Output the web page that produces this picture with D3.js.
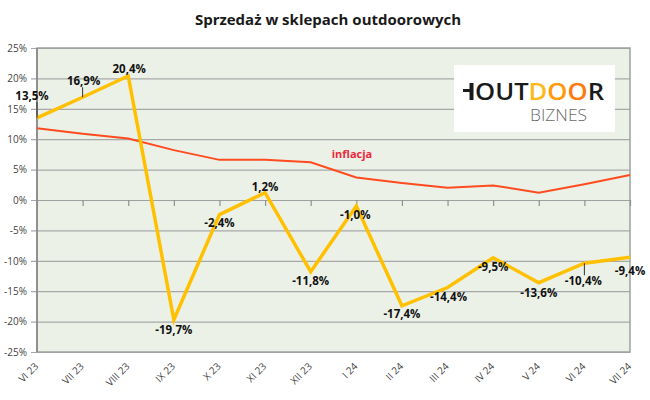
<!DOCTYPE html>
<html><head><meta charset="utf-8">
<script src="https://cdn.jsdelivr.net/npm/d3@7"></script>
<style>body{margin:0;background:#fff}svg{display:block}</style>
</head><body>
<svg id="c" width="650" height="400"></svg>
<script>
const categories = ["VI 23","VII 23","VIII 23","IX 23","X 23","XI 23","XII 23","I 24","II 24","III 24","IV 24","V 24","VI 24","VII 24"];
const sales = [13.5,16.9,20.4,-19.7,-2.4,1.2,-11.8,-1.0,-17.4,-14.4,-9.5,-13.6,-10.4,-9.4];
const inflation = [11.8,10.9,10.1,8.2,6.6,6.6,6.2,3.7,2.8,2.0,2.4,1.2,2.6,4.1];
const yTicks = [-25,-20,-15,-10,-5,0,5,10,15,20,25];
const title = "Sprzedaż w sklepach outdoorowych";
const inflationLabel = "inflacja";

// layout of data labels (offsets from point): [dx, dy, leader]
const labelLayout = [[-5,-18,1],[1,-12,1],[1,-3,0],[0,14,0],[0,12,0],[0,-2,0],[0,13,0],[-1,13,0],[0,12,0],[1,13,0],[0,13,0],[0,14,0],[-1,22,1],[0,18,0]];

const svg = d3.select("#c");
const L = 37, R = 630, T = 48, B = 352;
const x = d3.scalePoint().domain(categories).range([L, R]);
const y = d3.scaleLinear().domain([-25, 25]).range([B, T]);
const plFormat = d3.formatLocale({decimal: ",", thousands: " ", grouping: [3], currency: ["", " zł"], minus: "-"}).format(".1f");
const fmt = v => plFormat(v) + "%";

svg.append("text").attr("x", 328).attr("y", 25).attr("text-anchor", "middle")
  .attr("font-family", "Open Sans").attr("font-weight", "bold").attr("font-size", 15)
  .attr("fill", "#1a1a1a").text(title);

svg.append("rect").attr("x", L).attr("y", T).attr("width", R - L).attr("height", B - T)
  .attr("fill", "#ECF1E7");

// gridlines + y axis
const yAxis = d3.axisLeft(y).tickValues(yTicks).tickSize(-(R - L)).tickSizeOuter(0)
  .tickPadding(10).tickFormat(d => d + "%");
const gy = svg.append("g").attr("transform", `translate(${L},0)`).call(yAxis);
gy.select(".domain").remove();
gy.selectAll(".tick line").attr("stroke", "#A8A8A8").attr("stroke-width", 1.2).attr("x1", -6);
gy.selectAll(".tick text").attr("font-family", "Open Sans").attr("font-size", 10)
  .attr("fill", "#444").attr("x", -10);

// border
svg.append("rect").attr("x", L).attr("y", T).attr("width", R - L).attr("height", B - T)
  .attr("fill", "none").attr("stroke", "#A0A0A0").attr("stroke-width", 1.5);
svg.append("line").attr("x1", L).attr("x2", L).attr("y1", T).attr("y2", B)
  .attr("stroke", "#8C8C8C").attr("stroke-width", 1.8);

// x axis ticks at zero line
const xAxis = d3.axisBottom(x).tickSize(6).tickSizeOuter(0).tickFormat("");
const gx = svg.append("g").attr("transform", `translate(0,${y(0)})`).call(xAxis);
gx.select(".domain").attr("stroke", "#A0A0A0").attr("stroke-width", 1.2);
gx.selectAll(".tick line").attr("stroke", "#909090").attr("stroke-width", 1.2);

// x labels
svg.append("g").selectAll("text").data(categories).join("text")
  .attr("transform", d => `translate(${x(d) + 2},${367}) rotate(-45)`)
  .attr("text-anchor", "end").attr("font-family", "Open Sans").attr("font-size", 10)
  .attr("fill", "#444").text(d => d);

// logo
const lg = svg.append("g");
lg.append("rect").attr("x", 454).attr("y", 65).attr("width", 161).attr("height", 67).attr("fill", "#fff");
lg.append("rect").attr("x", 463).attr("y", 89).attr("width", 7).attr("height", 3).attr("fill", "#1a1a1a");
lg.append("rect").attr("x", 469.5).attr("y", 83).attr("width", 4).attr("height", 17).attr("fill", "#1a1a1a");
const lt = lg.append("text").attr("x", 475).attr("y", 100).attr("font-family", "Open Sans")
  .attr("font-size", 23.5).attr("font-weight", 600).attr("textLength", 129).attr("lengthAdjust", "spacingAndGlyphs");
lt.append("tspan").attr("fill", "#1a1a1a").text("OUT");
lt.append("tspan").attr("fill", "#FFB81C").text("D");
lt.append("tspan").attr("fill", "#FF9A0A").text("O");
lt.append("tspan").attr("fill", "#FF7A0A").text("O");
lt.append("tspan").attr("fill", "#1a1a1a").text("R");
lg.append("text").attr("x", 530).attr("y", 121).attr("font-family", "Open Sans").attr("font-size", 16)
  .attr("font-weight", 300).attr("fill", "#6a6a6a").attr("textLength", 57).attr("lengthAdjust", "spacingAndGlyphs")
  .text("BIZNES");

// inflation line
const line = d3.line().x((d, i) => x(categories[i])).y(d => y(d));
svg.append("path").datum(inflation).attr("d", line).attr("fill", "none")
  .attr("stroke", "#FF4B1F").attr("stroke-width", 2);
svg.append("text").attr("x", 352).attr("y", 158).attr("text-anchor", "middle")
  .attr("font-family", "Open Sans").attr("font-weight", "bold").attr("font-size", 11)
  .attr("fill", "#E8283C").text(inflationLabel);

// sales line
svg.append("path").datum(sales).attr("d", line).attr("fill", "none")
  .attr("stroke", "#FFC000").attr("stroke-width", 3.5).attr("stroke-linejoin", "miter");

// leader lines
svg.append("g").selectAll("line").data(sales.map((v, i) => ({v, i})).filter(d => labelLayout[d.i][2]))
  .join("line")
  .attr("x1", d => x(categories[d.i])).attr("x2", d => x(categories[d.i]))
  .attr("y1", d => y(d.v)).attr("y2", d => y(d.v) + labelLayout[d.i][1] + (labelLayout[d.i][1] < 0 ? 2 : -10))
  .attr("stroke", "#333").attr("stroke-width", 1);

// data labels
svg.append("g").selectAll("text").data(sales).join("text")
  .attr("x", (d, i) => x(categories[i]) + labelLayout[i][0])
  .attr("y", (d, i) => y(d) + labelLayout[i][1])
  .attr("text-anchor", "middle").attr("font-family", "Open Sans").attr("font-weight", "bold")
  .attr("font-size", 11.5).attr("fill", "#111").text(d => fmt(d));
</script>
</body></html>
